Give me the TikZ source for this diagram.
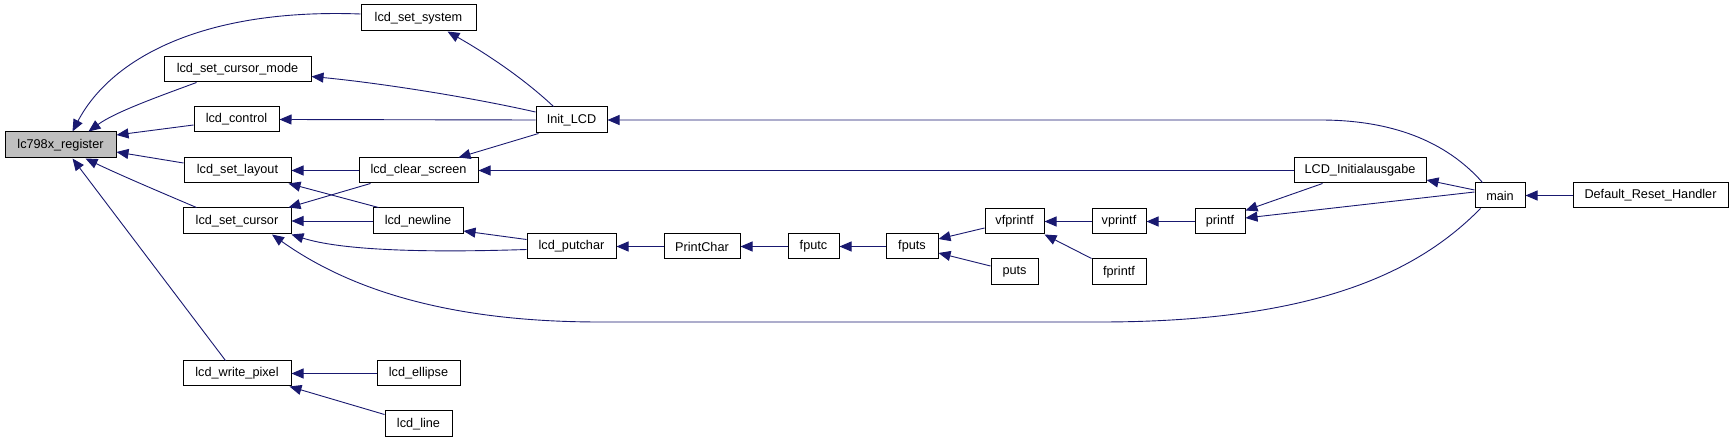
\documentclass[tikz,border=0pt]{standalone}
\usepackage{fontspec}
\setmainfont{Liberation Sans}
\usetikzlibrary{arrows.meta,calc}
\definecolor{edgec}{RGB}{25,25,112}
\definecolor{rootc}{RGB}{191,191,191}
\begin{document}
\begin{tikzpicture}[x=1pt,y=-1pt,
  fn/.style={draw=black, fill=white, line width=1pt, inner sep=0pt, font=\fontsize{12.7}{14}\selectfont},
  rootfn/.style={fn, fill=rootc},
  e/.style={draw=edgec, line width=0.9pt, -{Triangle[length=12pt,width=10pt]}}]
\fill[white] (0,0) rectangle (1733,443);
\useasboundingbox (0,0) rectangle (1733,443);

% nodes
\node[rootfn, minimum width=111pt, minimum height=26pt] (reg) at (60.5,145) {lc798x\_register};
\node[fn, minimum width=115pt, minimum height=26pt] (sys) at (418.5,18) {lcd\_set\_system};
\node[fn, minimum width=147pt, minimum height=25pt] (cmode) at (237.5,69.5) {lcd\_set\_cursor\_mode};
\node[fn, minimum width=85pt, minimum height=25pt] (ctrl) at (236.5,119.5) {lcd\_control};
\node[fn, minimum width=107pt, minimum height=25pt] (layout) at (237.5,170.5) {lcd\_set\_layout};
\node[fn, minimum width=108pt, minimum height=26pt] (cursor) at (237,221) {lcd\_set\_cursor};
\node[fn, minimum width=108pt, minimum height=25pt] (wpix) at (237,373.5) {lcd\_write\_pixel};
\node[fn, minimum width=71pt, minimum height=26pt] (init) at (571.5,120) {Init\_LCD};
\node[fn, minimum width=119pt, minimum height=25pt] (clear) at (418.5,170.5) {lcd\_clear\_screen};
\node[fn, minimum width=90pt, minimum height=26pt] (newline) at (418,221) {lcd\_newline};
\node[fn, minimum width=83pt, minimum height=25pt] (ellipse) at (418.5,373.5) {lcd\_ellipse};
\node[fn, minimum width=67pt, minimum height=26pt] (line) at (418.5,424) {lcd\_line};
\node[fn, minimum width=89pt, minimum height=25pt] (putchar) at (571.5,246.5) {lcd\_putchar};
\node[fn, minimum width=76pt, minimum height=25pt] (printchar) at (702,246.5) {PrintChar};
\node[fn, minimum width=51pt, minimum height=25pt] (fputc) at (813.5,246.5) {fputc};
\node[fn, minimum width=52pt, minimum height=25pt] (fputs) at (912,246.5) {fputs};
\node[fn, minimum width=59pt, minimum height=25pt] (vfprintf) at (1014.5,221.5) {vfprintf};
\node[fn, minimum width=47pt, minimum height=26pt] (puts) at (1014.5,272) {puts};
\node[fn, minimum width=54pt, minimum height=25pt] (vprintf) at (1119,221.5) {vprintf};
\node[fn, minimum width=54pt, minimum height=26pt] (fprintf) at (1119,272) {fprintf};
\node[fn, minimum width=50pt, minimum height=25pt] (printf) at (1220,221.5) {printf};
\node[fn, minimum width=132pt, minimum height=25pt] (initaus) at (1360,170.5) {LCD\_Initialausgabe};
\node[fn, minimum width=50pt, minimum height=25pt] (main) at (1500,195.5) {main};
\node[fn, minimum width=155pt, minimum height=25pt] (drh) at (1650.5,195.5) {Default\_Reset\_Handler};

% edges (arrow at callee)
\draw[e] ($(sys.west)+(0,-4)$) .. controls (200,8) and (110,60) .. ($(reg.north)+(12,0)$);
\draw[e] ($(cmode.south west)+(33,0)$) .. controls (160,96) and (115,112) .. ($(reg.north)+(28,0)$);
\draw[e] ($(ctrl.west)+(0,5.5)$) -- ($(reg.east)+(0,-10)$);
\draw[e] ($(layout.west)+(0,-7.5)$) -- ($(reg.east)+(0,7)$);
\draw[e] ($(cursor.north west)+(14,0)$) .. controls (160,192) and (120,175) .. ($(reg.south)+(25,0)$);
\draw[e] ($(wpix.north west)+(43,0)$) -- ($(reg.south)+(12,0)$);
\draw[e] ($(init.north west)+(18,0)$) .. controls (520,75) and (480,50) .. ($(sys.south)+(29,0)$);
\draw[e] ($(init.west)+(0,-8)$) .. controls (460,95) and (370,82) .. ($(cmode.east)+(0,7)$);
\draw[e] (init.west) -- (ctrl.east);
\draw[e] ($(init.south west)+(3,0)$) -- ($(clear.north)+(40,0)$);
\draw[e] (initaus.west) -- (clear.east);
\draw[e] (clear.west) -- (layout.east);
\draw[e] ($(clear.south west)+(12,0)$) -- ($(cursor.north east)+(-3,0)$);
\draw[e] ($(newline.north west)+(6,0)$) -- ($(layout.south east)+(-3,0)$);
\draw[e] (newline.west) -- (cursor.east);
\draw[e] ($(putchar.west)+(0,-7)$) -- ($(newline.east)+(0,10)$);
\draw[e] ($(putchar.west)+(0,3)$) .. controls (420,253) and (340,250) .. (cursor.south east);
\draw[e] ($(main.south west)+(6,0)$) .. controls (1420,270) and (1320,322) .. (1100,322) -- (600,322) .. controls (450,322) and (350,290) .. ($(cursor.south)+(35,0)$);
\draw[e] (ellipse.west) -- (wpix.east);
\draw[e] ($(line.north west)+(0,4)$) -- ($(wpix.south east)+(-2,0)$);
\draw[e] (printchar.west) -- (putchar.east);
\draw[e] (fputc.west) -- (printchar.east);
\draw[e] (fputs.west) -- (fputc.east);
\draw[e] ($(vfprintf.west)+(0,6.5)$) -- ($(fputs.east)+(0,-7.5)$);
\draw[e] ($(puts.west)+(0,-6)$) -- ($(fputs.east)+(0,6.5)$);
\draw[e] (vprintf.west) -- (vfprintf.east);
\draw[e] (fprintf.north west) -- (vfprintf.south east);
\draw[e] (printf.west) -- (vprintf.east);
\draw[e] ($(initaus.south west)+(29,0)$) -- ($(printf.north east)+(0,2)$);
\draw[e] ($(main.west)+(0,-3.5)$) -- ($(printf.east)+(0,-3.5)$);
\draw[e] ($(main.west)+(0,-5.5)$) -- ($(initaus.east)+(0,9.5)$);
\draw[e] ($(main.north west)+(8,0)$) .. controls (1445,140) and (1390,120) .. (1320,120) -- (init.east);
\draw[e] (drh.west) -- (main.east);
\end{tikzpicture}
\end{document}
